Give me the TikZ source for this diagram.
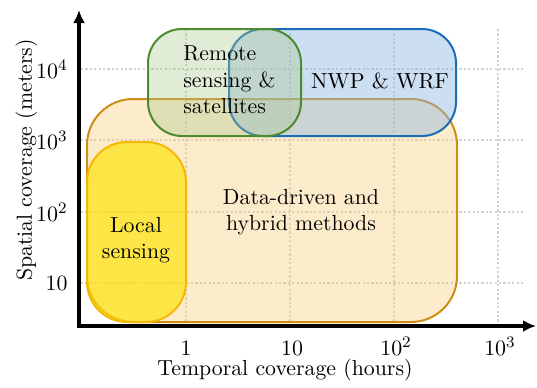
\documentclass[tikz,border=0pt]{standalone}
\usepackage{xcolor}
\usepackage{amsmath}
\usepackage{tikz}
\usetikzlibrary{arrows.meta}

\definecolor{ddfill}{HTML}{F9C86A}
\definecolor{dddraw}{HTML}{CC8E14}
\definecolor{rsfill}{HTML}{A9C98C}
\definecolor{rsdraw}{HTML}{4E8A2E}
\definecolor{nwpfill}{HTML}{8FB5E0}
\definecolor{nwpdraw}{HTML}{1A6DB8}
\definecolor{lsfill}{HTML}{FFE100}
\definecolor{lsdraw}{HTML}{F5B800}
\definecolor{gridgray}{HTML}{D2D2D2}

\begin{document}
\begin{tikzpicture}[x=0.5pt, y=0.5pt,
    every node/.style={font=\fontsize{10.9pt}{13.3pt}\selectfont, inner sep=0pt},
    gridline/.style={gridgray, line width=1.1pt, dash pattern=on 1.1pt off 1.1pt},
    region/.style={line width=1pt},
    axis/.style={line width=2pt, -{Latex[length=6.5pt,width=6pt]}}
]
    \useasboundingbox (0,0) rectangle (537,387);

    % grid
    \foreach \x in {186,290,394,498}
        \draw[gridline] (\x,61) -- (\x,358);
    \foreach \y in {104,175,247,318}
        \draw[gridline] (81,\y) -- (525,\y);

    % regions
    \draw[region, draw=dddraw, fill=ddfill, fill opacity=0.35, rounded corners=23pt] (87,65) rectangle (457,288);
    \draw[region, draw=nwpdraw, fill=nwpfill, fill opacity=0.45, rounded corners=17pt] (229,251) rectangle (456,358);
    \draw[region, draw=rsdraw, fill=rsfill, fill opacity=0.35, rounded corners=17pt] (148,251) rectangle (301,358);
    \draw[region, draw=lsdraw, fill=lsfill, fill opacity=0.65, rounded corners=20pt] (87,65) rectangle (186,245);

    \node[anchor=west, align=left] (remote) at (183,307) {Remote\\sensing \&\\satellites};
    \node (nwp) at (380,306) {NWP \& WRF};
    \node[align=center] (data) at (301,175) {Data-driven and\\hybrid methods};
    \node[align=center] (local) at (136,147) {Local\\sensing};

    % axes
    \coordinate (origin) at (79,61);
    \coordinate (ytip) at (79,377);
    \coordinate (xtip) at (536,61);
    \draw[line width=2pt] (77,61) -- (origin);
    \draw[axis] (origin) -- (ytip);
    \draw[axis] (origin) -- (xtip);

    % ticks
    \node[anchor=east] (y10) at (68,104) {$10$};
    \node[anchor=east] (y100) at (68,175) {$10^2$};
    \node[anchor=east] (y1k) at (68,247) {$10^3$};
    \node[anchor=east] (y10k) at (68,318) {$10^4$};
    \node[anchor=base] (x1) at (186,32) {$1$};
    \node[anchor=base] (x10) at (292,32) {$10$};
    \node[anchor=base] (x100) at (396,32) {$10^2$};
    \node[anchor=base] (x1k) at (500,32) {$10^3$};

    \node[anchor=base] (xlabel) at (285,12) {Temporal coverage (hours)};
    \node[anchor=base, rotate=90] (ylabel) at (32,227) {Spatial coverage (meters)};
\end{tikzpicture}
\end{document}
